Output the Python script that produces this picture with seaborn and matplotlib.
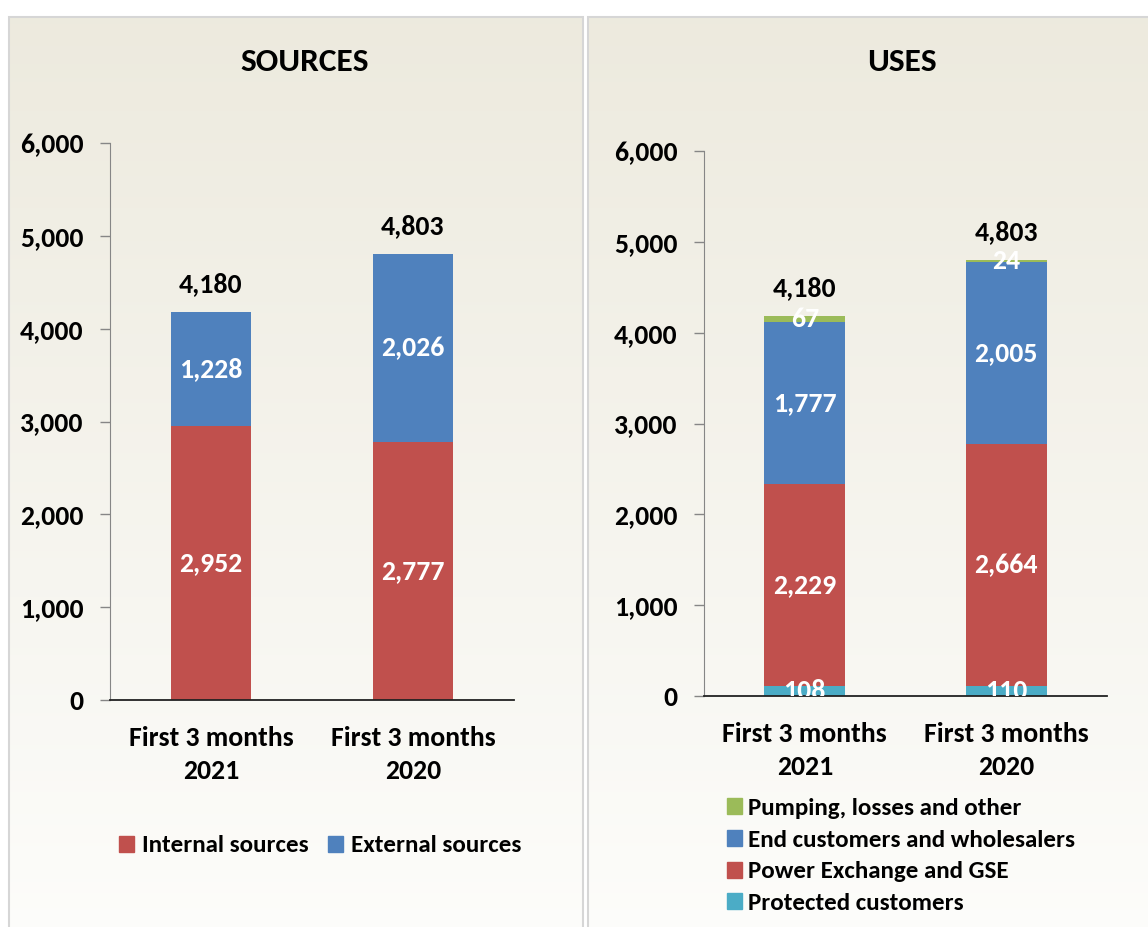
import numpy as np
import pandas as pd
import matplotlib
matplotlib.use("Agg")
import matplotlib.pyplot as plt
import seaborn as sns
from matplotlib.patches import Rectangle, Patch
from matplotlib.ticker import StrMethodFormatter

# data
periods = ["First 3 months\n2021", "First 3 months\n2020"]

src_names = ["Internal sources", "External sources"]
src_internal = [2952, 2777]
src_external = [1228, 2026]
src_totals = [4180, 4803]

use_names = ["Protected customers", "Power Exchange and GSE",
             "End customers and wholesalers", "Pumping, losses and other"]
use_protected = [108, 110]
use_exchange = [2229, 2664]
use_end = [1777, 2005]
use_pumping = [67, 24]
use_totals = [4180, 4803]

RED = "#C0504D"
BLUE = "#4F81BD"
GREEN = "#9BBB59"
TEAL = "#4BACC6"

sns.set_style("white")
plt.rcParams["font.family"] = ["Carlito", "DejaVu Sans"]
plt.rcParams["font.weight"] = "bold"
plt.rcParams["text.color"] = "black"
plt.rcParams["xtick.labelcolor"] = "black"
plt.rcParams["ytick.labelcolor"] = "black"

W, H = 1148, 927
fig = plt.figure(figsize=(W / 100, H / 100), dpi=100)
fig.patch.set_facecolor("white")


def px(x0, y0, x1, y1):
    # pixel box (top-left origin) -> figure fraction rect
    return [x0 / W, 1 - y1 / H, (x1 - x0) / W, (y1 - y0) / H]


# panel backgrounds with vertical gradient
grad = np.linspace(0, 1, 256)[:, None]
top_c = np.array([0.929, 0.918, 0.871])
bot_c = np.array([0.992, 0.992, 0.984])
img = top_c[None, None, :] * (1 - grad[:, :, None]) + bot_c[None, None, :] * grad[:, :, None]
for box in [(9, 17, 583, 940), (588, 17, 1160, 940)]:
    bg = fig.add_axes(px(*box), zorder=0)
    bg.imshow(img, aspect="auto", extent=[0, 1, 0, 1])
    bg.set_axis_off()
    fig.patches.append(Rectangle((box[0] / W, 1 - box[3] / H), (box[2] - box[0]) / W,
                                 (box[3] - box[1]) / H, transform=fig.transFigure,
                                 fill=False, edgecolor="#D6D6D6", lw=1.5, zorder=1))


def draw_stack(ax, series, colors, totals):
    cum = np.cumsum(np.array(series), axis=0)
    # draw cumulative bars from top segment down so they stack visually
    for i in range(len(series) - 1, -1, -1):
        df = pd.DataFrame({"period": periods, "value": cum[i]})
        sns.barplot(data=df, x="period", y="value", order=periods, color=colors[i],
                    saturation=1, width=0.4, linewidth=0, ax=ax)
    for i, vals in enumerate(series):
        for j, v in enumerate(vals):
            base = cum[i][j] - v
            ax.text(j, base + v / 2, f"{v:,}", ha="center", va="center", color="white",
                    fontsize=20, fontweight="bold", clip_on=True, zorder=5)
    for j, t in enumerate(totals):
        ax.annotate(f"{t:,}", (j, t), xytext=(0, 20), textcoords="offset points",
                    ha="center", va="center", fontsize=20, fontweight="bold", color="black")

    ax.set_facecolor("none")
    ax.set_ylim(0, 6000)
    ax.set_xlim(-0.5, 1.5)
    ax.set_yticks(range(0, 6001, 1000))
    ax.yaxis.set_major_formatter(StrMethodFormatter("{x:,.0f}"))
    ax.set_xticks([0, 1])
    ax.set_xticklabels(periods, fontsize=20, fontweight="bold", linespacing=1.45)
    ax.set_xticks([-0.5, 0.5, 1.5], minor=True)
    ax.tick_params(axis="x", which="major", length=0, pad=19)
    ax.tick_params(axis="x", which="minor", length=7, width=1, color="#444444", direction="out")
    ax.tick_params(axis="y", length=7, width=1, color="#868686", direction="out", pad=12,
                   labelsize=20, left=True)
    for lab in ax.get_yticklabels():
        lab.set_fontweight("bold")
    ax.set_xlabel("")
    ax.set_ylabel("")
    sns.despine(ax=ax)
    ax.spines["left"].set_color("#868686")
    ax.spines["bottom"].set_color("#222222")
    ax.spines["bottom"].set_linewidth(1.3)


# SOURCES
ax1 = fig.add_axes(px(110, 143, 514, 700), zorder=2)
draw_stack(ax1, [src_internal, src_external], [RED, BLUE], src_totals)
fig.text(305 / W, 1 - 62 / H, "SOURCES", ha="center", va="center", fontsize=24, fontweight="bold")
h1 = [Patch(color=RED, label=src_names[0]), Patch(color=BLUE, label=src_names[1])]
ax1.legend(handles=h1, loc="center", bbox_to_anchor=(320 / W, 1 - 846 / H),
           bbox_transform=fig.transFigure, ncol=2, frameon=False,
           prop={"size": 18, "weight": "bold"},
           handlelength=0.6, handleheight=0.6, handletextpad=0.3, columnspacing=0.8,
           borderpad=0, borderaxespad=0)

# USES
ax2 = fig.add_axes(px(704, 151, 1107, 696), zorder=2)
draw_stack(ax2, [use_protected, use_exchange, use_end, use_pumping], [TEAL, RED, BLUE, GREEN], use_totals)
fig.text(902 / W, 1 - 62 / H, "USES", ha="center", va="center", fontsize=24, fontweight="bold")
h2 = [Patch(color=GREEN, label=use_names[3]), Patch(color=BLUE, label=use_names[2]),
      Patch(color=RED, label=use_names[1]), Patch(color=TEAL, label=use_names[0])]
ax2.legend(handles=h2, loc="center left", bbox_to_anchor=(727 / W, 1 - 856 / H),
           bbox_transform=fig.transFigure, ncol=1, frameon=False,
           prop={"size": 18, "weight": "bold"},
           handlelength=0.6, handleheight=0.6, handletextpad=0.25, labelspacing=0.43,
           borderpad=0, borderaxespad=0)

fig.savefig("out.png", dpi=100)
